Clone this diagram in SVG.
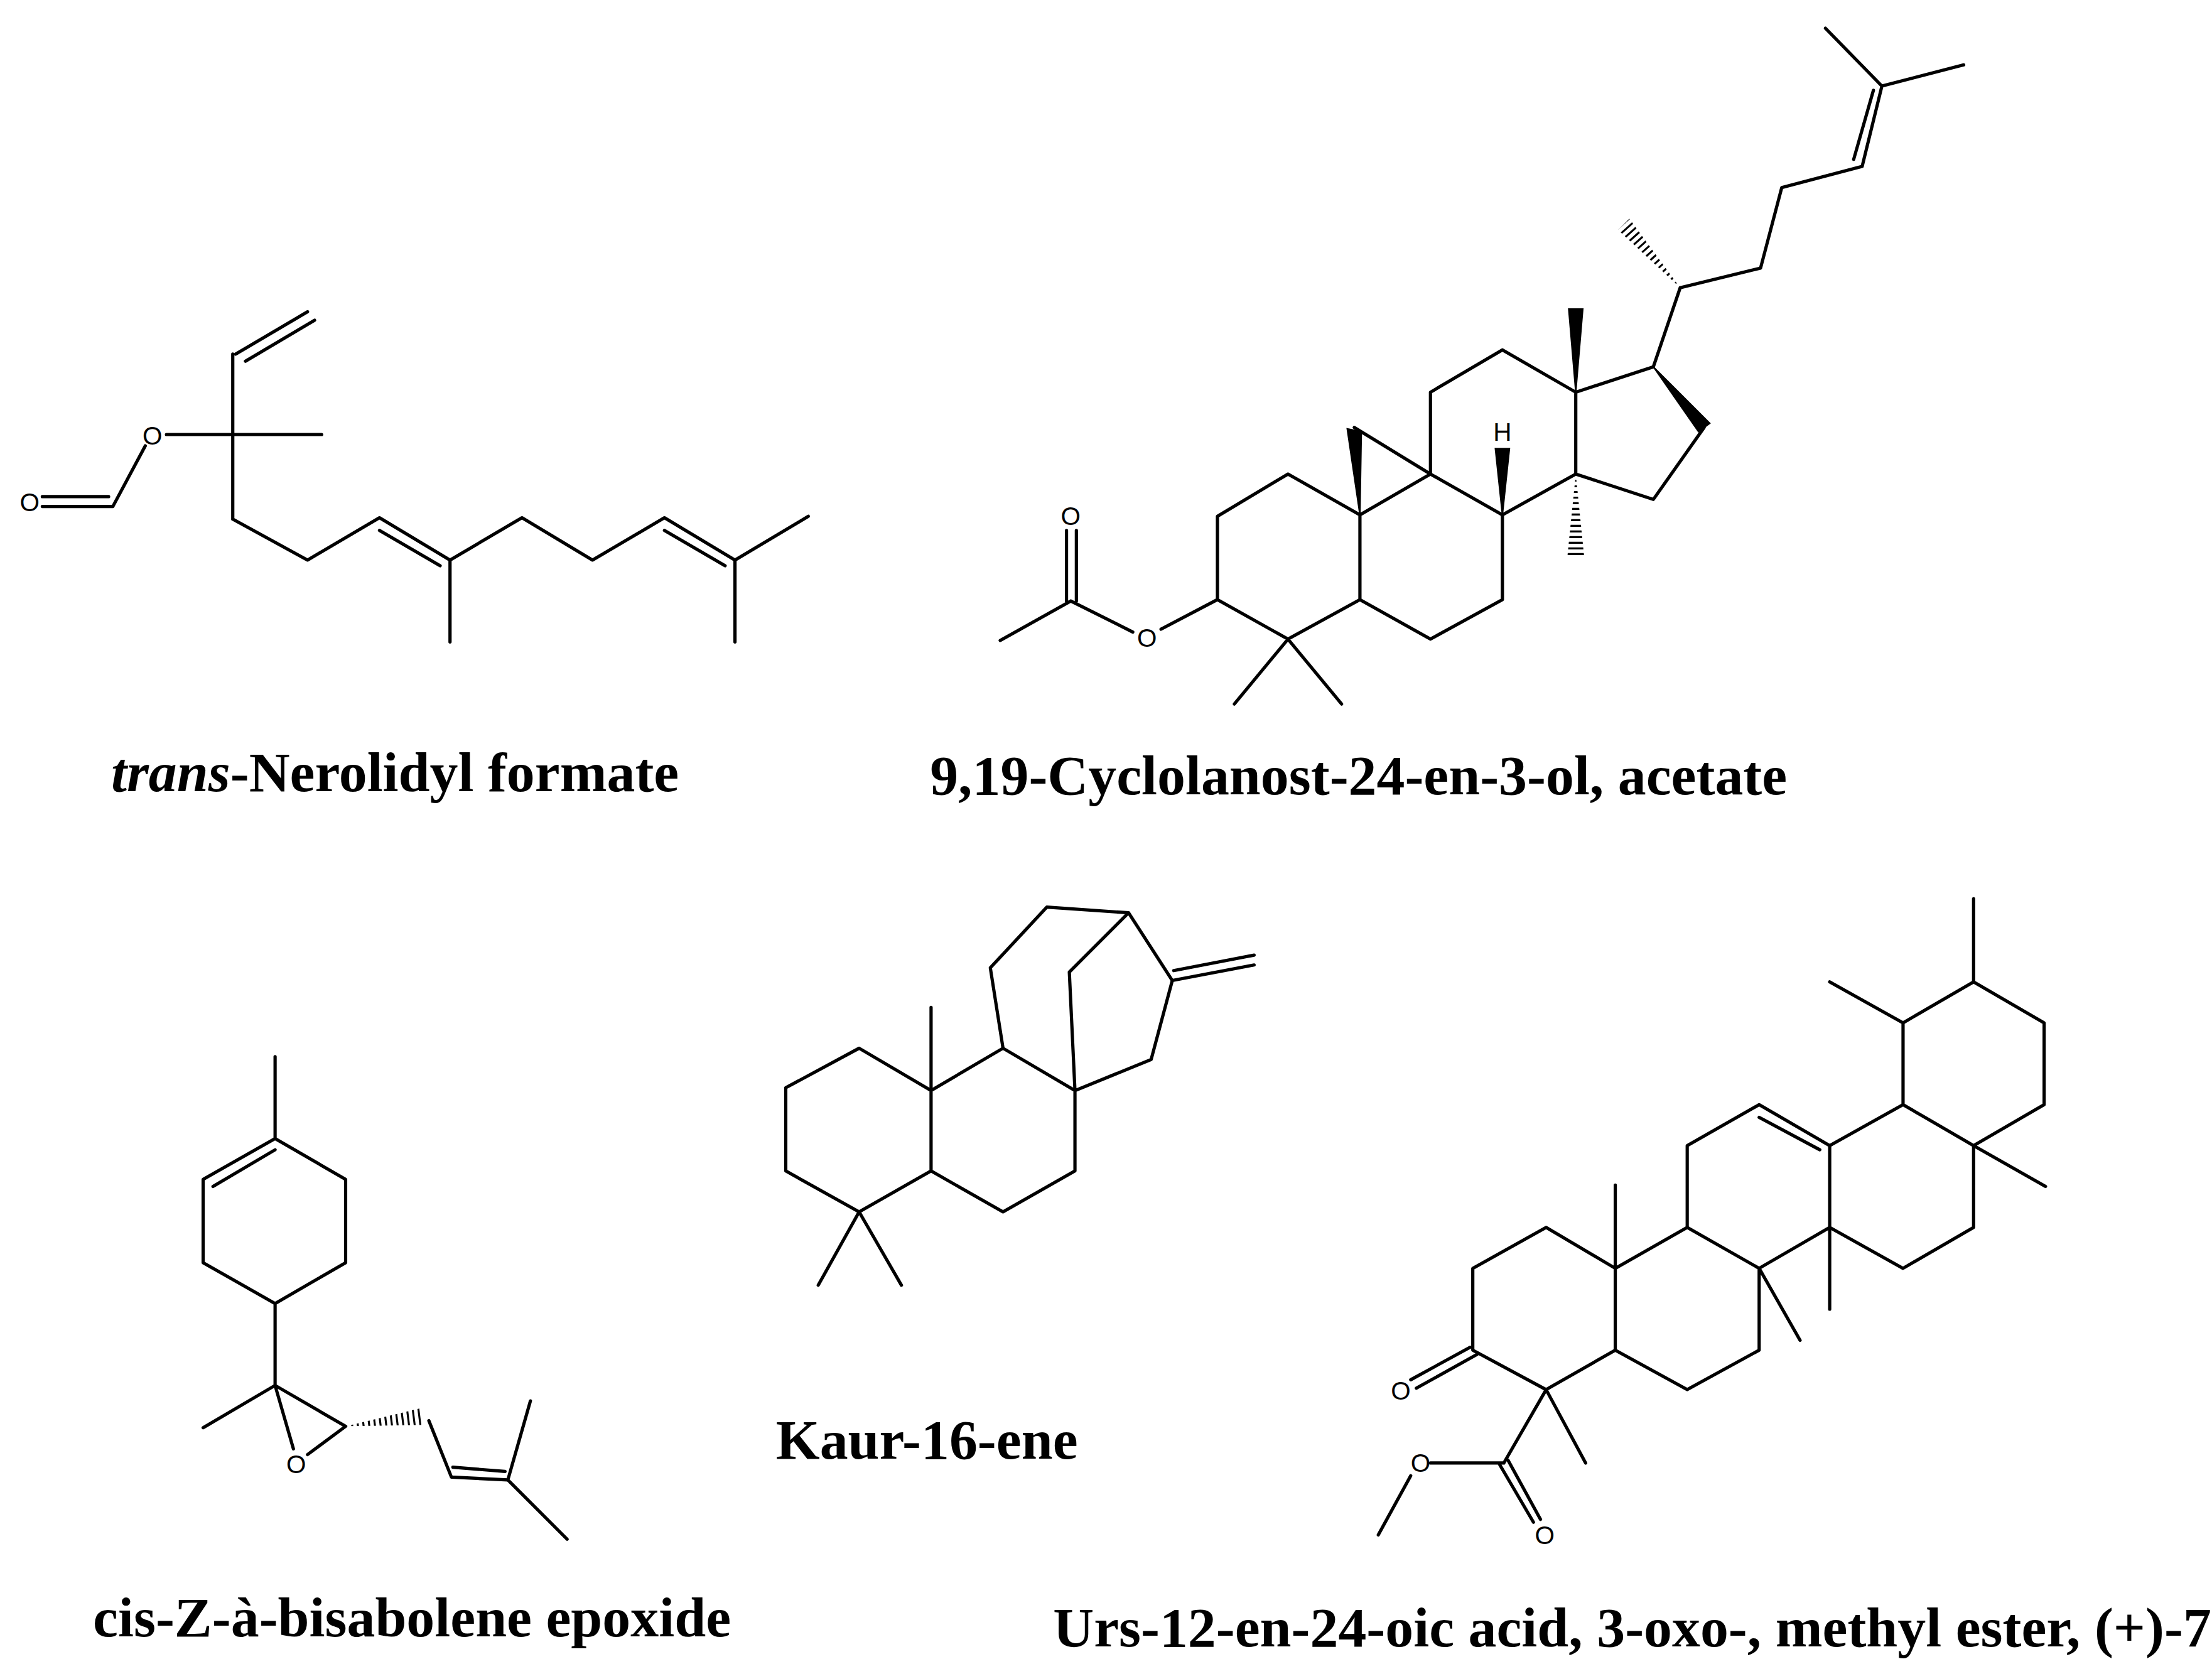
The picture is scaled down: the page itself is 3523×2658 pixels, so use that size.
<svg xmlns="http://www.w3.org/2000/svg" width="3523" height="2658" viewBox="0 0 3523 2658">
<style>
.b{stroke:#000;stroke-width:2.3;fill:none;stroke-linecap:round;stroke-linejoin:round}
.w{fill:#000;stroke:#000;stroke-width:1}
.a{font-family:"Liberation Sans",Arial,sans-serif;font-size:18px;fill:#000;text-anchor:middle;dominant-baseline:central}
.t{font-family:"Liberation Serif","Times New Roman",serif;font-weight:bold;font-size:40px;fill:#000;text-anchor:middle}
.h{stroke:#000;fill:none;stroke-dasharray:1.4 2.6}
</style>
<defs>
<clipPath id="c1"><polygon points="1117,336 1111,395 1123,395"/></clipPath>
<clipPath id="c2"><polygon points="1191,204 1147,163 1155,155"/></clipPath>
<clipPath id="c3"><polygon points="245,1011 299,998 300,1010"/></clipPath>
</defs>
<rect width="3523" height="2658" fill="#fff"/>
<g transform="scale(2.24681)">
<g id="nerolidyl">
<path class="b" d="M167,251 L218,221 M174,256 L223,227 M165,251 L165,368 M165,308 L228,308 M118,308 L165,308 M103,316 L80,359 M30,352 L77,352 M30,359 L80,359 M165,368 L218,397 L269,367 L319,397 L370,367 L420,397 L471,367 L521,397 L573,366 M269,376 L312,401 M471,376 L514,401 M319,397 L319,455 M521,397 L521,455"/>
<text class="a" x="108" y="309">O</text>
<text class="a" x="21" y="356">O</text>
</g>
<g id="cyclolanostenol">
<path class="b" d="M709,454 L759,426 M756,376 L756,426 M763,376 L763,426 M759,426 L803,448 M823,446 L863,425 M863,425 L863,366 L913,336 L964,365 L964,425 L913,453 Z M913,453 L875,499 M913,453 L951,499 M964,365 L1014,336 L1065,365 L1065,425 L1014,453 L964,425 M960,303 L1014,336 M1014,336 L1014,278 L1065,248 L1117,278 L1117,336 L1065,365 M1117,278 L1172,260 M1208,303 L1172,354 L1117,336 M1172,260 L1191,204 L1248,190 L1263,133 L1320,118 L1334,61 M1314,113 L1328,64 M1334,61 L1294,20 M1334,61 L1392,46"/>
<polygon class="w" points="964,365 955,304 965,306"/>
<polygon class="w" points="1065,365 1060,318 1070,318"/>
<polygon class="w" points="1117,278 1112,219 1122,219"/>
<polygon class="w" points="1172,260 1212,300 1204,306"/>
<line class="h" x1="1117" y1="336" x2="1117" y2="396" stroke-width="14" clip-path="url(#c1)"/>
<line class="h" x1="1191" y1="204" x2="1149" y2="157" stroke-width="14" clip-path="url(#c2)"/>
<text class="a" x="759" y="366">O</text>
<text class="a" x="813" y="452">O</text>
<text class="a" x="1065" y="306">H</text>
</g>
<g id="bisabolene">
<path class="b" d="M195,749 L195,807 M195,807 L144,836 L144,895 L195,924 L245,895 L245,836 Z M151,841 L195,815 M195,924 L195,982 L144,1012 M195,982 L245,1011 M195,982 L208,1027 M218,1031 L245,1011 M304,1007 L320,1047 L360,1049 M321,1040 L358,1043 M360,1049 L376,993 M360,1049 L402,1091"/>
<line class="h" x1="245" y1="1011" x2="301" y2="1004" stroke-width="14" clip-path="url(#c3)"/>
<text class="a" x="210" y="1038">O</text>
</g>
<g id="kaurene">
<path class="b" d="M557,771 L609,743 L660,773 L660,830 L609,859 L557,830 Z M609,859 L580,911 M609,859 L639,911 M660,773 L660,714 M660,773 L711,743 L762,773 L762,830 L711,859 L660,830 M711,743 L702,686 L742,643 L800,647 L758,689 L762,773 M800,647 L831,695 L816,751 L762,773 M831,695 L889,684 M832,688 L889,677"/>
</g>
<g id="ursenoate">
<path class="b" d="M1399,696 L1349,725 L1349,783 L1399,812 L1449,783 L1449,725 Z M1399,696 L1399,637 M1349,725 L1297,696 M1399,812 L1450,841 M1399,812 L1399,870 L1349,899 L1297,870 L1297,812 L1349,783 M1297,870 L1297,928 M1297,812 L1247,783 L1196,812 L1196,870 L1247,899 L1297,870 M1247,792 L1290,815 M1247,899 L1276,950 M1196,870 L1145,899 L1145,957 L1196,985 L1247,957 L1247,899 M1145,899 L1145,840 M1145,899 L1096,870 L1044,899 L1044,957 L1096,985 L1145,957 M1042,955 L1000,978 M1047,960 L1004,984 M1096,985 L1124,1037 M1096,985 L1066,1037 M1063,1038 L1087,1079 M1069,1035 L1092,1077 M1066,1037 L1014,1037 M1000,1046 L977,1088"/>
<text class="a" x="993" y="986">O</text>
<text class="a" x="1007" y="1037">O</text>
<text class="a" x="1095" y="1088">O</text>
</g>
<text class="t" x="280" y="561"><tspan font-style="italic">trans</tspan>-Nerolidyl formate</text>
<text class="t" x="963" y="563">9,19-Cyclolanost-24-en-3-ol, acetate</text>
<text class="t" x="657" y="1034">Kaur-16-ene</text>
<text class="t" x="292" y="1160">cis-Z-à-bisabolene epoxide</text>
<text class="t" x="1157" y="1167">Urs-12-en-24-oic acid, 3-oxo-, methyl ester, (+)-7</text>
</g>
</svg>
